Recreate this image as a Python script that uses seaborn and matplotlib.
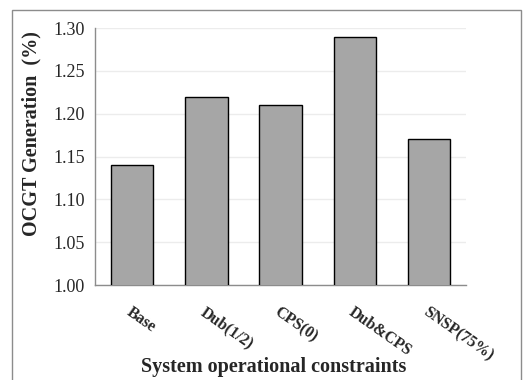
import matplotlib
matplotlib.use("Agg")
import matplotlib.pyplot as plt
import seaborn as sns
import pandas as pd
from matplotlib.patches import Rectangle

# === Data ===
cenarios = ["Base", "Dub(1/2)", "CPS(0)", "Dub&CPS", "SNSP(75%)"]
geracao_ocgt = [1.14, 1.22, 1.21, 1.29, 1.17]
yticks = [1.00, 1.05, 1.10, 1.15, 1.20, 1.25, 1.30]

df = pd.DataFrame({"cenario": cenarios, "ocgt": geracao_ocgt})

# === Style ===
sns.set_style("white")
plt.rcParams["font.family"] = ["Liberation Serif", "DejaVu Serif"]

fig = plt.figure(figsize=(5.28, 3.8), dpi=100)
ax = fig.add_axes([0.180, 0.25, 0.703, 0.676])

# outer frame like the original export
fig.patches.append(Rectangle((12 / 528, -0.05), 509 / 528, 1.05 - 10 / 380,
                             transform=fig.transFigure, fill=False,
                             edgecolor="#8c8c8c", linewidth=1.0))

sns.barplot(data=df, x="cenario", y="ocgt", color="#a6a6a6", edgecolor="black",
            linewidth=1.0, width=0.57, saturation=1, ax=ax, zorder=3)

ax.set_ylim(1.0, 1.30)
ax.set_xlim(-0.5, 4.5)
ax.set_yticks(yticks)
ax.set_yticklabels([f"{v:.2f}" for v in yticks], fontsize=13)
ax.yaxis.grid(True, color="#ececec", linewidth=1.0, zorder=0)
ax.set_axisbelow(True)

for s in ["top", "right"]:
    ax.spines[s].set_visible(False)
for s in ["left", "bottom"]:
    ax.spines[s].set_color("#8c8c8c")
    ax.spines[s].set_linewidth(1.0)
ax.tick_params(axis="both", direction="out", length=4, color="#8c8c8c", width=1.0)

ax.set_xticks(range(len(cenarios)))
ax.set_xticklabels(cenarios, rotation=-35, ha="left", rotation_mode="anchor",
                   fontsize=11.5, fontweight="bold")
for lbl in ax.get_xticklabels():
    lbl.set_y(-0.035)

ax.set_xlabel("System operational constraints", fontsize=14.5, fontweight="bold")
ax.set_ylabel("OCGT Generation  (%)", fontsize=14.5, fontweight="bold")
ax.xaxis.set_label_coords(0.48, -0.28)
ax.yaxis.set_label_coords(-0.145, 0.59)

fig.savefig("out.png", dpi=100)
plt.close()
